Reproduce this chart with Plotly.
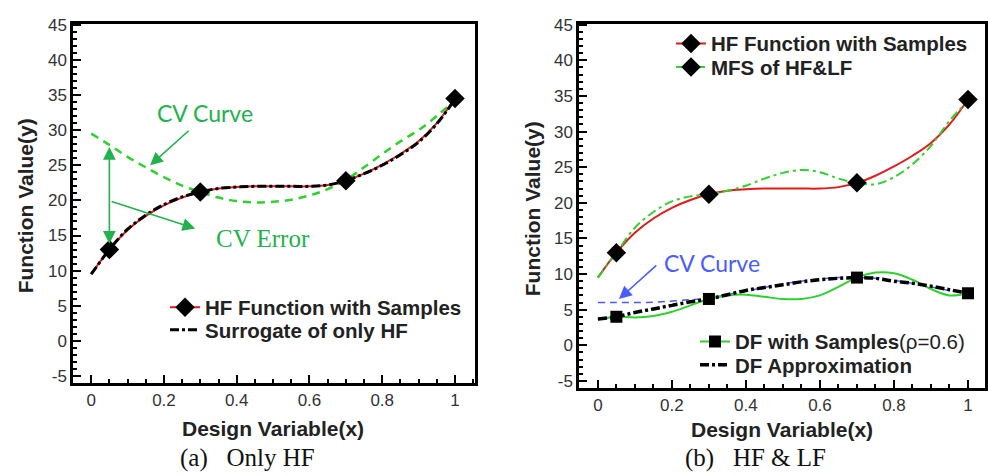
import plotly.graph_objects as go

# ---------------- data ----------------
x_grid = [0, 0.05, 0.1, 0.15, 0.2, 0.25, 0.3, 0.35, 0.4, 0.45, 0.5,
          0.55, 0.6, 0.65, 0.7, 0.75, 0.8, 0.85, 0.9, 0.95, 1.0]

hf_curve = [9.5, 13.0, 15.8, 17.8, 19.3, 20.4, 21.2, 21.7, 21.9, 22.0, 22.0,
            22.0, 22.0, 22.2, 22.8, 23.8, 25.1, 26.6, 28.4, 31.0, 34.5]
hf_surrogate = [9.5, 13.0, 15.9, 17.9, 19.4, 20.5, 21.2, 21.7, 21.9, 22.0, 22.0,
                22.0, 22.0, 22.2, 22.8, 23.8, 25.0, 26.5, 28.3, 30.9, 34.4]
cv_curve_hf = [29.5, 27.9, 26.2, 24.7, 23.3, 22.1, 21.2, 20.4, 19.9, 19.7, 19.8,
               20.1, 20.7, 21.6, 22.9, 24.7, 26.6, 28.4, 30.0, 32.0, 34.3]

sample_x = [0.05, 0.3, 0.7, 1.0]
hf_samples = [13.0, 21.2, 22.8, 34.5]

mfs_curve = [9.5, 13.0, 16.5, 18.7, 20.2, 20.9, 21.2, 21.7, 22.4, 23.4, 24.2,
             24.6, 24.3, 23.4, 22.8, 22.6, 23.6, 25.4, 28.0, 31.5, 34.3]

df_curve = [3.6, 4.0, 3.9, 4.1, 4.7, 5.6, 6.5, 7.0, 7.1, 6.8, 6.5,
            6.5, 7.0, 8.2, 9.5, 10.2, 10.1, 9.2, 7.9, 7.0, 7.3]
df_samples = [4.0, 6.5, 9.5, 7.3]
df_approx = [3.7, 4.0, 4.6, 5.1, 5.6, 6.1, 6.5, 7.1, 7.7, 8.1, 8.5,
             8.9, 9.2, 9.4, 9.5, 9.4, 9.0, 8.7, 8.3, 7.8, 7.3]
cv_curve_df = [6.0, 6.0, 6.0, 6.05, 6.2, 6.4, 6.6, 7.1, 7.6, 8.1, 8.6,
               9.0, 9.3, 9.5, 9.5, 9.4, 9.1, 8.7, 8.2, 7.7, 7.3]

x_tickvals = [0, 0.2, 0.4, 0.6, 0.8, 1]
x_ticktext = ["0", "0.2", "0.4", "0.6", "0.8", "1"]
y_tickvals = [-5, 0, 5, 10, 15, 20, 25, 30, 35, 40, 45]
y_ticktext = ["-5", "0", "5", "10", "15", "20", "25", "30", "35", "40", "45"]

# ---------------- styling ----------------
RED = "#e41a1a"
GREEN = "#2ed12e"
ANN_GREEN = "#22b24c"
BLUE = "#4a5cff"
SANS = "Liberation Sans, Arial, sans-serif"
SERIF = "Liberation Serif, Times New Roman, serif"
DASHDOT = "9px,3px,3px,3px"

fig = go.Figure()

# ----- left panel -----
fig.add_trace(go.Scatter(x=x_grid, y=cv_curve_hf, mode="lines", xaxis="x", yaxis="y",
                         line=dict(color=GREEN, width=2.5, dash="8px,6px", shape="spline"),
                         showlegend=False))
fig.add_trace(go.Scatter(x=x_grid, y=hf_curve, mode="lines", xaxis="x", yaxis="y",
                         line=dict(color=RED, width=2, shape="spline"), showlegend=False))
fig.add_trace(go.Scatter(x=x_grid, y=hf_surrogate, mode="lines", xaxis="x", yaxis="y",
                         line=dict(color="black", width=3, dash=DASHDOT, shape="spline"),
                         showlegend=False))
fig.add_trace(go.Scatter(x=sample_x, y=hf_samples, mode="markers", xaxis="x", yaxis="y",
                         marker=dict(symbol="diamond", size=15, color="black"), showlegend=False))
# legend entries (left)
fig.add_trace(go.Scatter(x=[None], y=[None], mode="lines+markers", xaxis="x", yaxis="y",
                         name="<b>HF Function with Samples</b>", legend="legend",
                         line=dict(color=RED, width=2),
                         marker=dict(symbol="diamond", size=15, color="black")))
fig.add_trace(go.Scatter(x=[None], y=[None], mode="lines", xaxis="x", yaxis="y",
                         name="<b>Surrogate of only HF</b>", legend="legend4",
                         line=dict(color="black", width=3, dash=DASHDOT)))

# ----- right panel -----
fig.add_trace(go.Scatter(x=x_grid, y=hf_curve, mode="lines", xaxis="x2", yaxis="y2",
                         line=dict(color=RED, width=2, shape="spline"), showlegend=False))
fig.add_trace(go.Scatter(x=x_grid, y=mfs_curve, mode="lines", xaxis="x2", yaxis="y2",
                         line=dict(color=GREEN, width=2, dash="9px,4px,3px,4px", shape="spline"),
                         showlegend=False))
fig.add_trace(go.Scatter(x=sample_x, y=hf_samples, mode="markers", xaxis="x2", yaxis="y2",
                         marker=dict(symbol="diamond", size=15, color="black"), showlegend=False))
fig.add_trace(go.Scatter(x=x_grid, y=cv_curve_df, mode="lines", xaxis="x2", yaxis="y2",
                         line=dict(color=BLUE, width=1.5, dash="7px,5px", shape="spline"),
                         showlegend=False))
fig.add_trace(go.Scatter(x=x_grid, y=df_curve, mode="lines", xaxis="x2", yaxis="y2",
                         line=dict(color=GREEN, width=2, shape="spline"), showlegend=False))
fig.add_trace(go.Scatter(x=x_grid, y=df_approx, mode="lines", xaxis="x2", yaxis="y2",
                         line=dict(color="black", width=3.5, dash=DASHDOT, shape="spline"),
                         showlegend=False))
fig.add_trace(go.Scatter(x=sample_x, y=df_samples, mode="markers", xaxis="x2", yaxis="y2",
                         marker=dict(symbol="square", size=12, color="black"), showlegend=False))
# legend entries (right)
fig.add_trace(go.Scatter(x=[None], y=[None], mode="lines+markers", xaxis="x2", yaxis="y2",
                         name="<b>HF Function with Samples</b>", legend="legend2",
                         line=dict(color=RED, width=2),
                         marker=dict(symbol="diamond", size=15, color="black")))
fig.add_trace(go.Scatter(x=[None], y=[None], mode="lines+markers", xaxis="x2", yaxis="y2",
                         name="<b>MFS of HF&amp;LF</b>", legend="legend5",
                         line=dict(color=GREEN, width=2, dash="9px,4px,3px,4px"),
                         marker=dict(symbol="diamond", size=15, color="black")))
fig.add_trace(go.Scatter(x=[None], y=[None], mode="lines+markers", xaxis="x2", yaxis="y2",
                         name="<b>DF with Samples</b>(ρ=0.6)", legend="legend3",
                         line=dict(color=GREEN, width=2),
                         marker=dict(symbol="square", size=12, color="black")))
fig.add_trace(go.Scatter(x=[None], y=[None], mode="lines", xaxis="x2", yaxis="y2",
                         name="<b>DF Approximation</b>", legend="legend6",
                         line=dict(color="black", width=3.5, dash=DASHDOT)))

W, H = 988, 476


def px_x(p):
    return p / W


def px_y(p):
    return 1 - p / H


axis_common = dict(showline=True, linewidth=2.5, linecolor="black", mirror=True,
                   ticks="inside", ticklen=8, tickwidth=1.5, tickcolor="black",
                   showgrid=False, zeroline=False,
                   tickfont=dict(family=SANS, size=17, color="#333333"))

LEG_FONT = dict(family=SANS, size=20.5, color="#222222")


def legend_at(x_text_px, row_center_px):
    # Plotly places the legend text ~42px right of the legend's left edge
    # and the first row ~20px below its top edge.
    return dict(x=px_x(x_text_px - 42), y=px_y(row_center_px - 20), xanchor="left", yanchor="top",
                bgcolor="rgba(0,0,0,0)", font=LEG_FONT)


fig.update_layout(
    width=W, height=H,
    margin=dict(l=0, r=0, t=0, b=0),
    paper_bgcolor="white", plot_bgcolor="white",
    xaxis=dict(domain=[px_x(73), px_x(475)], range=[-0.05, 1.055], anchor="y",
               tickvals=x_tickvals, ticktext=x_ticktext,
               minor=dict(dtick=0.05, tick0=0, ticks="inside", ticklen=4, tickcolor="black"),
               **axis_common),
    yaxis=dict(domain=[px_y(384), px_y(16)], range=[-6, 45.15], anchor="x",
               tickvals=y_tickvals, ticktext=y_ticktext,
               minor=dict(dtick=1, tick0=0, ticks="inside", ticklen=4, tickcolor="black"),
               **axis_common),
    xaxis2=dict(domain=[px_x(579), px_x(985)], range=[-0.051, 1.046], anchor="y2",
                tickvals=x_tickvals, ticktext=x_ticktext,
                minor=dict(dtick=0.05, tick0=0, ticks="inside", ticklen=4, tickcolor="black"),
                **axis_common),
    yaxis2=dict(domain=[px_y(389), px_y(16)], range=[-6, 45.15], anchor="x2",
                tickvals=y_tickvals, ticktext=y_ticktext,
                minor=dict(dtick=1, tick0=0, ticks="inside", ticklen=4, tickcolor="black"),
                **axis_common),
    legend=legend_at(207, 306),
    legend4=legend_at(207, 329),
    legend2=legend_at(713, 36),
    legend5=legend_at(713, 60),
    legend3=legend_at(737, 341),
    legend6=legend_at(737, 365),
)

annotations = []
# axis titles
TITLE_FONT = dict(family=SANS, size=21, color="#222222")
for xc, yc in [(273, 430), (782, 431)]:
    annotations.append(dict(text="<b>Design Variable(x)</b>", xref="paper", yref="paper",
                            x=px_x(xc), y=px_y(yc), showarrow=False, xanchor="center", yanchor="middle",
                            borderpad=0, font=TITLE_FONT))
for xc, yc in [(25, 203), (532, 206)]:
    annotations.append(dict(text="<b>Function Value(y)</b>", xref="paper", yref="paper",
                            x=px_x(xc), y=px_y(yc), showarrow=False, textangle=-90,
                            xanchor="center", yanchor="middle", font=TITLE_FONT))
# captions
annotations.append(dict(text="(a)   Only HF", xref="paper", yref="paper", x=px_x(247), y=px_y(461),
                        showarrow=False, xanchor="center", yanchor="middle",
                        font=dict(family=SERIF, size=25, color="#111111")))
annotations.append(dict(text="(b)   HF &amp; LF", xref="paper", yref="paper", x=px_x(755), y=px_y(461),
                        showarrow=False, xanchor="center", yanchor="middle",
                        font=dict(family=SERIF, size=25, color="#111111")))

# left panel CV annotations
annotations.append(dict(text="CV Curve", xref="x", yref="y", x=0.313, y=32.4, showarrow=False,
                        font=dict(family="Lato, sans-serif", size=23, color=ANN_GREEN)))
annotations.append(dict(text="", xref="x", yref="y", axref="x", ayref="y",
                        x=0.162, y=25.0, ax=0.272, ay=30.1, showarrow=True,
                        arrowhead=2, arrowsize=1.6, arrowwidth=1.6, arrowcolor=ANN_GREEN))
annotations.append(dict(text="", xref="x", yref="y", axref="x", ayref="y",
                        x=0.05, y=27.6, ax=0.05, ay=13.6, showarrow=True, arrowside="end+start",
                        arrowhead=2, startarrowhead=2, arrowsize=1.6, startarrowsize=1.6,
                        arrowwidth=1.6, arrowcolor=ANN_GREEN))
annotations.append(dict(text="", xref="x", yref="y", axref="x", ayref="y",
                        x=0.286, y=16.0, ax=0.052, ay=19.9, showarrow=True,
                        arrowhead=2, arrowsize=1.6, arrowwidth=1.6, arrowcolor=ANN_GREEN))
annotations.append(dict(text="CV Error", xref="x", yref="y", x=0.473, y=14.6, showarrow=False,
                        font=dict(family=SERIF, size=25, color=ANN_GREEN)))

# right panel CV annotation
annotations.append(dict(text="CV Curve", xref="x2", yref="y2", x=0.173, y=11.6, showarrow=False,
                        xanchor="left",
                        font=dict(family="Lato, sans-serif", size=23, color=BLUE)))
annotations.append(dict(text="", xref="x2", yref="y2", axref="x2", ayref="y2",
                        x=0.057, y=6.5, ax=0.162, ay=11.4, showarrow=True,
                        arrowhead=2, arrowsize=1.6, arrowwidth=1.6, arrowcolor=BLUE))

fig.update_layout(annotations=annotations)

fig.write_html("out.html",
               config={"displayModeBar": False},
               post_script="document.body.style.margin='0px';document.body.style.overflow='hidden';")
